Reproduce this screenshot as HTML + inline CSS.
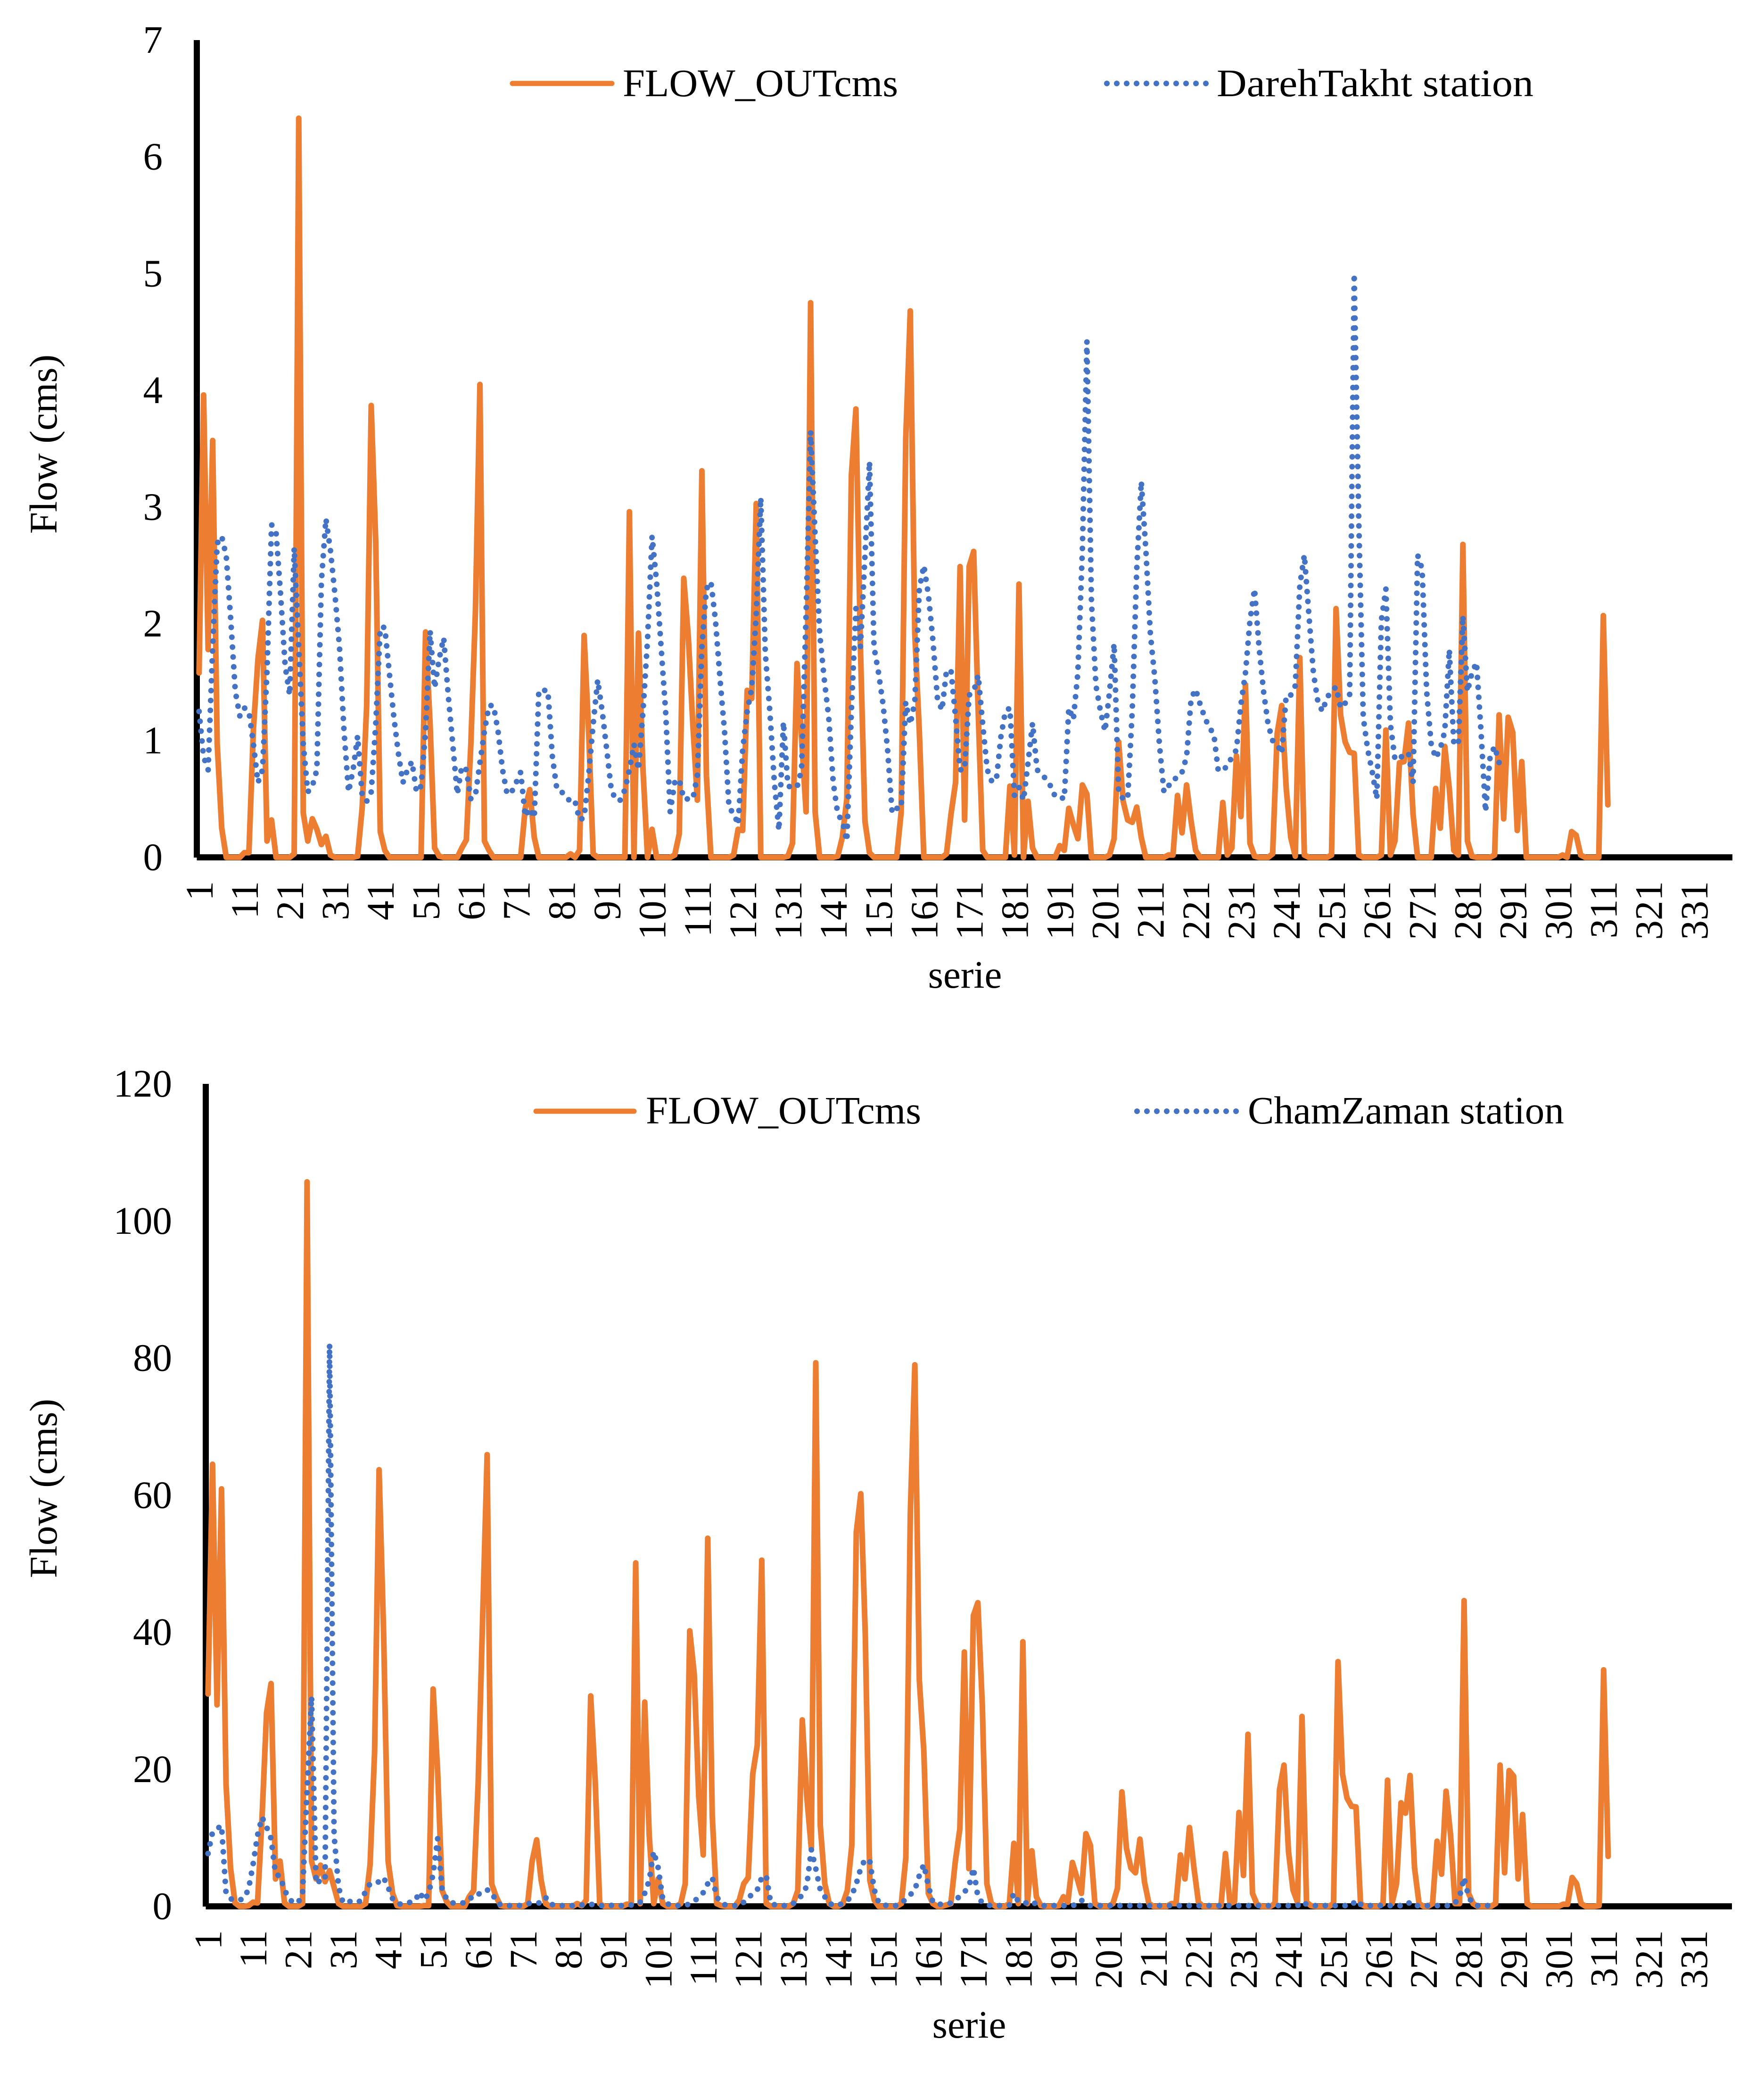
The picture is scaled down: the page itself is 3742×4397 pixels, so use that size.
<!DOCTYPE html>
<html lang="en">
<head>
<meta charset="utf-8">
<title>Flow comparison charts</title>
<style>
html,body{margin:0;padding:0;background:#fff;}
svg{display:block;}
text{font-family:"Liberation Serif","Times New Roman",serif;font-size:83px;fill:#000;}
</style>
</head>
<body>
<svg id="page" xmlns="http://www.w3.org/2000/svg" width="3742" height="4397" viewBox="0 0 3742 4397">
  <rect x="0" y="0" width="3742" height="4397" fill="#fff"/>

  <g id="chart-top">
    <g>
      <g>
        <line x1="1087" y1="177" x2="1298" y2="177" stroke="#ED7D31" stroke-width="11" stroke-linecap="round"/>
        <text x="1321" y="204" textLength="584" lengthAdjust="spacingAndGlyphs">FLOW_OUTcms</text>
      </g>
      <g>
        <line x1="2348" y1="177" x2="2562" y2="177" stroke="#4472C4" stroke-width="12" stroke-linecap="round" stroke-dasharray="0 21"/>
        <text x="2581" y="204" textLength="672" lengthAdjust="spacingAndGlyphs">DarehTakht station</text>
      </g>
    </g>
    <text transform="translate(120 942) rotate(-90)" text-anchor="middle">Flow (cms)</text>
    <text x="2047" y="2095" text-anchor="middle">serie</text>
  </g>

  <g id="chart-bottom">
    <g>
      <g>
        <line x1="1137" y1="2357" x2="1345" y2="2357" stroke="#ED7D31" stroke-width="11" stroke-linecap="round"/>
        <text x="1370" y="2383" textLength="584" lengthAdjust="spacingAndGlyphs">FLOW_OUTcms</text>
      </g>
      <g>
        <line x1="2412" y1="2357" x2="2625" y2="2357" stroke="#4472C4" stroke-width="12" stroke-linecap="round" stroke-dasharray="0 21"/>
        <text x="2647" y="2383">ChamZaman station</text>
      </g>
    </g>
    <text transform="translate(120 3157) rotate(-90)" text-anchor="middle">Flow (cms)</text>
    <text x="2056" y="4322" text-anchor="middle">serie</text>
  </g>
</svg>

<script>
const xTickLabels = [1,11,21,31,41,51,61,71,81,91,101,111,121,131,141,151,161,171,181,191,201,211,221,231,241,251,261,271,281,291,301,311,321,331];
const topYTickLabels = [0,1,2,3,4,5,6,7];
const bottomYTickLabels = [0,20,40,60,80,100,120];

const topFlowOut = [
1.58,3.96,1.78,3.57,.97,.25,0,0,0,0,
.04,.04,1.1,1.7,2.03,.14,.32,0,0,0,
0,.03,6.33,.38,.14,.33,.24,.11,.18,.02,
0,0,0,0,0,.01,.42,1.3,3.87,2.7,
.22,.06,0,0,0,0,0,0,0,0,
1.93,1.14,.08,.01,0,0,0,0,.08,.15,
.97,2.1,4.05,.14,.06,0,0,0,0,0,
0,0,.42,.58,.17,0,0,0,0,0,
0,0,.03,0,.06,1.9,1.08,.03,0,0,
0,0,0,0,0,2.96,0,1.92,.75,0,
.24,0,0,0,0,.02,.2,2.39,1.89,1.14,
.49,3.31,.7,0,0,0,0,0,.02,.24,
.23,1.43,1.36,3.03,0,0,0,0,0,0,
.01,.12,1.66,1.03,.39,4.75,.39,0,0,0,
0,.01,.17,.5,3.27,3.84,1.8,.31,.04,0,
0,0,0,0,0,.39,3.58,4.68,1.92,1.08,
0,0,0,0,0,.03,.37,.64,2.49,.32,
2.49,2.62,1.25,.06,0,0,0,0,0,.61,
.02,2.34,0,.48,.08,0,0,0,0,0,
.1,.06,.42,.28,.16,.62,.54,0,0,0,
0,.02,.16,.99,.48,.32,.3,.43,.17,0,
0,0,0,0,.02,.02,.53,.21,.62,.31,
.06,0,0,0,0,0,.47,.02,.08,.87,
.35,1.48,.12,.01,0,0,0,.03,1.06,1.3,
.59,.17,.01,1.71,.02,0,0,0,0,0,
.02,2.13,1.22,.99,.9,.89,.02,0,0,0,
0,.02,1.09,.02,.14,.81,.82,1.15,.37,0,
0,0,0,.59,.25,.95,.59,.06,.02,2.68,
.14,.01,0,0,0,0,.02,1.22,.33,1.2,
1.07,.23,.82,0,0,0,0,0,0,0,
0,.02,0,.22,.19,.02,0,0,0,0,
2.07,.45
];

const darehTakhtStation = [
1.25,.86,.75,1.8,2.69,2.75,2.58,2.03,1.42,1.21,
1.28,1.25,.97,.64,.75,1.6,2.85,2.78,2.25,1.64,
1.39,2.65,1.8,.97,.56,.61,.75,2.36,2.9,2.63,
2.25,1.8,1.08,.56,.75,1.04,.53,.48,.56,1.14,
1.97,1.97,1.58,1.2,.89,.64,.75,.82,.56,.61,
1.08,1.94,1.45,1.7,1.88,1.39,.97,.54,.78,.75,
.5,.53,.81,1.08,1.3,1.3,1.08,.75,.54,.56,
.64,.73,.35,.42,.34,1.43,1.43,1.43,.86,.58,
.56,.53,.47,.48,.32,.34,.7,1.14,1.52,1.25,
.92,.58,.49,.49,.58,.75,.97,.75,1.25,1.86,
2.75,2.36,1.8,1.25,.39,.64,.67,.5,.5,.5,
.7,1.8,2.3,2.36,2.03,1.53,1.08,.42,.38,.28,
.92,1.25,1.45,2.08,3.08,1.75,1.25,.64,.23,1.16,
.61,.6,.6,.75,2.08,3.65,2.75,1.92,1.53,1.2,
.64,.37,.31,.14,1.25,2.13,1.8,2.58,3.39,1.8,
1.58,1.31,.92,.38,.42,.42,1.33,1.14,1.33,2.3,
2.5,2.25,1.86,1.36,1.26,1.6,1.6,1.2,.75,.75,
1.39,1.42,1.56,1.14,.75,.65,.66,1.03,1.25,1.28,
.53,.6,.49,.81,1.15,.75,.71,.67,.61,.52,
.52,.5,1.28,1.18,1.58,2.64,4.42,2.19,1.47,1.25,
1.08,1.42,1.83,.56,.5,.5,1.25,2.47,3.22,2.64,
1.92,1.53,.97,.56,.61,.67,.68,.73,.86,1.36,
1.44,1.31,1.2,1.11,1.06,.74,.75,.78,.86,.92,
1.31,1.58,2.03,2.3,1.8,1.42,1.14,1,.97,.89,
1.39,1.39,1.47,2.33,2.59,2.08,1.58,1.33,1.25,1.37,
1.42,1.46,1.28,1.32,1.39,5,2.91,1.2,.92,.73,
.5,2.03,2.3,1.14,.84,.84,.89,.89,.64,2.59,
2.47,1.42,.97,.85,.93,1.08,1.78,.97,.97,2.07,
1.42,1.58,1.67,1.08,.39,.86,.95,.81
];

const bottomFlowOut = [
31,64.5,29.4,60.9,17.9,5.6,.5,0,0,.1,
.6,.5,13,28.2,32.5,4,6.6,.5,0,0,
0,.4,105.7,6.6,4,6,3.6,5.2,2.8,.4,
0,0,0,0,0,.4,6.1,22.5,63.7,40,
6.6,1.9,.1,0,0,0,0,0,.1,.1,
31.7,19.8,2.3,.7,0,0,0,0,1.4,2.3,
17.9,42,65.9,3.3,1.4,.1,0,0,0,0,
0,.4,6.6,9.7,3.8,.4,0,0,0,0,
0,0,.4,.1,.9,30.7,18.4,.4,0,0,
0,0,0,.3,.4,50.1,.4,29.8,10.4,.4,
4,.4,0,0,0,.4,3.3,40.2,33.9,16,
7.5,53.7,13.2,.4,.1,0,0,0,.9,3.3,
4.2,19.3,23.5,50.5,.4,0,0,0,0,0,
.4,2.3,27.2,16,8.5,79.3,11.8,3.3,.4,0,
0,.4,2.3,8.9,54.6,60.2,39.5,3.8,.9,0,
0,0,0,0,.4,7.1,57.4,79,33,22.6,
1.9,.4,0,0,.2,.4,6.6,11.3,37.1,5.5,
42.4,44.3,29.2,3.3,.4,0,0,0,.4,9.2,
.4,38.6,.4,8.1,1.4,.1,0,0,0,.1,
1.4,.6,6.4,4.2,1.9,10.6,8.9,.4,0,0,
0,.4,2.6,16.7,8.5,5.6,4.9,9.8,3.6,.4,
0,0,0,0,.4,.4,7.5,4,11.5,5.6,
.6,0,0,0,0,.1,7.7,.4,.7,13.7,
4.5,25.1,1.9,.3,0,0,0,.4,17,20.6,
8,2.4,.6,27.7,.6,.1,0,0,0,0,
.4,35.7,19.3,15.8,14.6,14.5,.4,0,0,0,
0,.4,18.4,.4,3.3,15.1,13.6,19.1,5.6,.4,
0,0,.4,9.5,4.7,16.8,10.4,.4,.4,44.6,
1.9,.4,0,0,0,0,.4,20.6,4.9,19.8,
19,4,13.4,.4,0,0,0,0,0,0,
0,.3,.3,4.2,3.3,.4,0,0,0,.1,
34.5,7.3
];

const chamZamanStation = [
7.7,10.8,11.3,11.8,1.9,1.1,.9,.9,1.2,2.5,
6.1,10.4,13,11.6,9.9,4.7,4.4,2.4,1.1,.5,
.5,1.9,17,30.6,3.3,3.8,3.8,82,10.4,2.8,
.5,.6,.8,.6,.8,2.2,3.3,3.3,3.6,4.2,
2.8,1.1,.4,.3,.5,.6,.8,2.1,.9,1.9,
4.7,9.9,2.4,1.1,.5,.5,.5,.5,.9,1.7,
1.7,2.3,2.4,2.1,.7,.2,.1,.1,.1,.1,
.2,.4,.5,.5,.5,1.3,.3,.2,.1,.1,
.1,.1,.1,.2,.2,.3,.2,.1,.1,.2,
.1,.1,.1,.1,.2,.2,.6,1.9,3.8,8,
5.6,1.1,.4,.1,.1,.1,.1,.4,.7,1.4,
2,3.3,4.2,1.4,.4,.2,.1,.1,.1,.6,
1.4,1.7,2.4,4.2,4.5,.4,.2,.1,.1,.1,
.4,1.1,1.6,3,8.3,5.5,2.4,1.4,.4,.2,
.1,.5,.8,1.6,3.3,5.6,6.9,6.6,2.4,.5,
.2,.1,.1,.1,.4,1.1,1.7,2.4,4.5,6.1,
3,.6,.3,.3,.3,.5,.9,1.5,2.1,2.8,
5.6,1.4,.5,.2,.1,.1,.1,.1,.2,1.9,
.7,.7,.4,.7,.3,.1,.1,.1,.1,.1,
.1,.1,.1,.3,.9,.4,.1,.1,.1,.1,
.1,.1,.1,.1,.1,.1,.1,.1,.1,.1,
.1,.1,.1,.1,.1,.1,.1,.1,.1,.1,
.1,.1,.1,.1,.1,.1,.1,.1,.1,.1,
.1,.1,.1,.1,.1,.1,.1,.1,.1,.1,
.1,.1,.1,.7,.3,.1,.1,.1,.1,.1,
.1,.1,.1,.1,.1,.9,.3,.1,.1,.1,
.1,.1,.1,.1,.1,.1,.1,.6,.1,.1,
.1,.1,.1,.1,.1,.1,.1,.5,1.4,4.2,
1.4,.3,.1,.1,.1,.1,.1
];

const SVG_NS = 'http://www.w3.org/2000/svg';

function makeAxes(left, right, bottom, top, categoryCount, maxValue) {
  const band = (right - left) / categoryCount;
  const xScale = function (i) { return left + (i - 0.5) * band; };
  const yScale = function (v) { return bottom - (v / maxValue) * (bottom - top); };
  return { xScale: xScale, yScale: yScale };
}

function seriesPath(values, axes) {
  let d = '';
  for (let k = 0; k < values.length; k++) {
    d += (k === 0 ? 'M' : 'L') + axes.xScale(k + 1).toFixed(2) + ' ' + axes.yScale(values[k]).toFixed(2);
  }
  return d;
}

function drawChart(groupId, cfg) {
  const group = document.getElementById(groupId);
  const axes = makeAxes(cfg.left, cfg.right, cfg.bottom, cfg.top, cfg.categoryCount, cfg.maxValue);

  const yAxis = document.createElementNS(SVG_NS, 'line');
  
  
  yAxis.setAttribute('x1', cfg.left);
  yAxis.setAttribute('x2', cfg.left);
  yAxis.setAttribute('y1', cfg.top);
  yAxis.setAttribute('y2', cfg.bottom + 0.5);
  yAxis.setAttribute('stroke', '#000');
  yAxis.setAttribute('stroke-width', '13');
  group.appendChild(yAxis);

  const xAxis = document.createElementNS(SVG_NS, 'line');
  
  
  xAxis.setAttribute('x1', cfg.left);
  xAxis.setAttribute('x2', cfg.right);
  xAxis.setAttribute('y1', cfg.bottom);
  xAxis.setAttribute('y2', cfg.bottom);
  xAxis.setAttribute('stroke', '#000');
  xAxis.setAttribute('stroke-width', '13');
  group.appendChild(xAxis);

  cfg.yTicks.forEach(function (v) {
    const t = document.createElementNS(SVG_NS, 'text');
    
    
    t.setAttribute('x', cfg.yLabelRight);
    t.setAttribute('y', (axes.yScale(v) + 27).toFixed(1));
    t.setAttribute('text-anchor', 'end');
    t.textContent = String(v);
    group.appendChild(t);
  });

  xTickLabels.forEach(function (label) {
    const baseX = axes.xScale(label) + cfg.xLabelOffset;
    const t = document.createElementNS(SVG_NS, 'text');
    
    
    t.setAttribute('text-anchor', 'end');
    t.setAttribute('transform', 'translate(' + baseX.toFixed(1) + ' ' + cfg.xLabelTop + ') rotate(-90)');
    t.textContent = String(label);
    group.appendChild(t);
  });

  const flowLine = document.createElementNS(SVG_NS, 'path');
  
  
  flowLine.setAttribute('d', seriesPath(cfg.flow, axes));
  flowLine.setAttribute('fill', 'none');
  flowLine.setAttribute('stroke', '#ED7D31');
  flowLine.setAttribute('stroke-width', '12');
  flowLine.setAttribute('stroke-linejoin', 'round');
  flowLine.setAttribute('stroke-linecap', 'round');
  group.appendChild(flowLine);

  const stationLine = document.createElementNS(SVG_NS, 'path');
  
  
  stationLine.setAttribute('d', seriesPath(cfg.station, axes));
  stationLine.setAttribute('fill', 'none');
  stationLine.setAttribute('stroke', '#4472C4');
  stationLine.setAttribute('stroke-width', '12');
  stationLine.setAttribute('stroke-linecap', 'round');
  stationLine.setAttribute('stroke-linejoin', 'round');
  stationLine.setAttribute('stroke-dasharray', '0 21');
  group.appendChild(stationLine);
}

drawChart('chart-top', {
  left: 417.5, right: 3675, bottom: 1818.5, top: 85,
  categoryCount: 339, maxValue: 7,
  yTicks: topYTickLabels, yLabelRight: 345,
  xLabelOffset: 28.5, xLabelTop: 1869,
  flow: topFlowOut, station: darehTakhtStation
});

drawChart('chart-bottom', {
  left: 436.5, right: 3674, bottom: 4043.5, top: 2299,
  categoryCount: 339, maxValue: 120,
  yTicks: bottomYTickLabels, yLabelRight: 365,
  xLabelOffset: 28, xLabelTop: 4094,
  flow: bottomFlowOut, station: chamZamanStation
});
</script>
</body>
</html>
